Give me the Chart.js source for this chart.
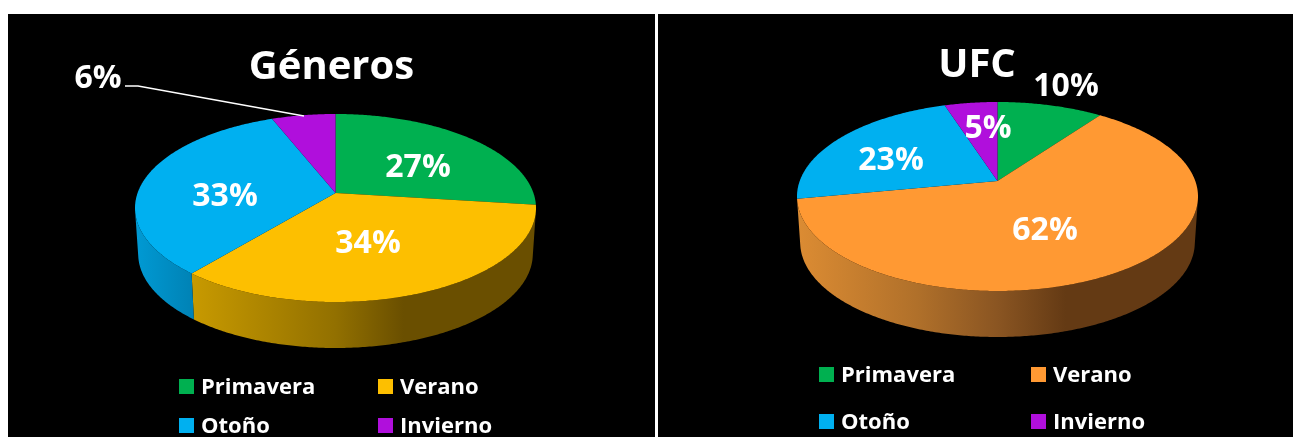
<!DOCTYPE html>
<html lang="es">
<head>
<meta charset="utf-8">
<title>Géneros y UFC por estación</title>
<script src="https://cdn.jsdelivr.net/npm/chart.js@4"></script>
<style>
  html, body { margin: 0; padding: 0; background: #fff; width: 1293px; height: 437px; overflow: hidden; }
  .panel { position: absolute; top: 14px; height: 423px; background: #000; overflow: hidden; }
  .panel canvas { display: block; }
</style>
</head>
<body>
<div class="panel" style="left:8px;width:647px"><canvas id="generos" width="647" height="423"></canvas></div>
<div class="panel" style="left:658px;width:635px"><canvas id="ufc" width="638" height="423"></canvas></div>
<script>
// Season categories and the share of each chart's total
const categories = ['Primavera', 'Verano', 'Otoño', 'Invierno'];
const generosValues = [27, 34, 33, 6];
const ufcValues = [10, 62, 23, 5];
const generosTitle = 'Géneros';
const ufcTitle = 'UFC';

const generosColours = ['#00B050', '#FDBF00', '#00B0F0', '#B00FDC'];
const ufcColours = ['#00B050', '#FF9933', '#00B0F0', '#B00FDC'];

const FONT = '"Open Sans", sans-serif';

// Horizontal shading of the pie's rim, per slice: [offset across the pie, colour]
const generosRim = [
  [[0, '#00803a'], [1, '#00803a']],
  [[0.14, '#c89a00'], [0.5, '#927000'], [0.67, '#6a4f00'], [1, '#6a4f00']],
  [[0, '#009ad4'], [0.14, '#0083b6']],
  [[0, '#7a0a99'], [1, '#7a0a99']]
];
const ufcRim = [
  [[0, '#00803a'], [1, '#00803a']],
  [[0, '#dc8c33'], [0.3, '#b0702a'], [0.5, '#8a5522'], [0.67, '#643a14'], [1, '#643a14']],
  [[0, '#009ad4'], [1, '#0083b6']],
  [[0, '#7a0a99'], [1, '#7a0a99']]
];

// Tilted-disc projection: unit circle to an ellipse, with the disc centre pushed back by k
function projector(g) {
  const s = Math.sqrt(1 - g.k * g.k);
  return angle => {
    const u = Math.cos(angle), v = Math.sin(angle), w = 1 + g.k * v;
    return { x: g.cx + g.rx * u * s / w, y: g.cy + g.ry * (v + g.k) / w };
  };
}

const pie3d = {
  id: 'pie3d',
  // Replaces the flat arc drawing; slice angles still come from the doughnut controller
  beforeDatasetsDraw(chart, args, opts) {
    const ctx = chart.ctx, g = opts.geometry, at = projector(g);
    const arcs = chart.getDatasetMeta(0).data;
    const apex = { x: g.cx, y: g.cy + g.ry * g.k };
    const samples = (a0, a1) => {
      const n = Math.max(2, Math.ceil((a1 - a0) / 0.01)), pts = [];
      for (let i = 0; i <= n; i++) pts.push(at(a0 + (a1 - a0) * i / n));
      return pts;
    };
    ctx.save();
    // Rim first: only the part of each slice facing the viewer
    arcs.forEach((arc, i) => {
      const pts = samples(arc.startAngle, arc.endAngle).filter(p => p.y >= g.cy + 3);
      if (pts.length < 2) return;
      const grad = ctx.createLinearGradient(g.cx - g.rx, 0, g.cx + g.rx, 0);
      opts.rim[i].forEach(s => grad.addColorStop(s[0], s[1]));
      ctx.beginPath();
      pts.forEach((p, j) => j ? ctx.lineTo(p.x, p.y) : ctx.moveTo(p.x, p.y));
      for (let j = pts.length - 1; j >= 0; j--) {
        ctx.lineTo(g.cx + (pts[j].x - g.cx) * g.taper, pts[j].y + g.depth);
      }
      ctx.closePath();
      ctx.fillStyle = grad;
      ctx.fill();
    });
    // Top face
    arcs.forEach((arc, i) => {
      const pts = samples(arc.startAngle, arc.endAngle);
      ctx.beginPath();
      ctx.moveTo(apex.x, apex.y);
      pts.forEach(p => ctx.lineTo(p.x, p.y));
      ctx.closePath();
      ctx.fillStyle = chart.data.datasets[0].backgroundColor[i];
      ctx.fill();
    });
    ctx.restore();
    return false;
  },
  afterDraw(chart, args, opts) {
    const ctx = chart.ctx, values = chart.data.datasets[0].data;
    ctx.save();
    // Leader line for a label set outside the pie
    if (opts.leader) {
      ctx.strokeStyle = '#fff';
      ctx.lineWidth = 1.4;
      ctx.beginPath();
      opts.leader.forEach((p, j) => j ? ctx.lineTo(p[0], p[1]) : ctx.moveTo(p[0], p[1]));
      ctx.stroke();
    }
    // Percentage labels
    ctx.fillStyle = '#fff';
    ctx.textAlign = 'center';
    ctx.textBaseline = 'middle';
    ctx.font = 'bold ' + opts.labelSize + 'px ' + FONT;
    values.forEach((v, i) => ctx.fillText(v + '%', opts.labelAt[i][0], opts.labelAt[i][1]));
    // Two-column legend
    ctx.textAlign = 'left';
    ctx.textBaseline = 'alphabetic';
    ctx.font = 'bold ' + opts.legendSize + 'px ' + FONT;
    chart.data.labels.forEach((name, i) => {
      const col = i % 2, row = i >> 1;
      const x = opts.legendX[col], y = opts.legendY[row];
      ctx.fillStyle = chart.data.datasets[0].backgroundColor[i];
      ctx.fillRect(x, y, 15, 15);
      ctx.fillStyle = '#fff';
      ctx.fillText(name, x + 22, y + 15);
    });
    ctx.restore();
  }
};

function drawPie(id, title, values, colours, pieOptions, titleTop) {
  new Chart(document.getElementById(id), {
    type: 'pie',
    data: {
      labels: categories,
      datasets: [{ data: values, backgroundColor: colours, borderWidth: 0 }]
    },
    plugins: [pie3d],
    options: {
      responsive: false,
      animation: false,
      events: [],
      plugins: {
        legend: { display: false },
        tooltip: { enabled: false },
        title: {
          display: true,
          text: title,
          color: '#fff',
          font: { family: FONT, size: 40, weight: 'bold', lineHeight: 1 },
          padding: { top: titleTop, bottom: 0 }
        },
        pie3d: pieOptions
      }
    }
  });
}

drawPie('generos', generosTitle, generosValues, generosColours, {
  geometry: { cx: 327.5, cy: 194, rx: 200.5, ry: 94, k: -0.16, depth: 46, taper: 0.984 },
  rim: generosRim,
  labelSize: 32,
  labelAt: [[410, 154], [360, 230], [217, 183], [90, 65]],
  leader: [[117, 72], [130, 72], [296, 102]],
  legendSize: 22,
  legendX: [171, 370],
  legendY: [365, 404]
}, 34);

drawPie('ufc', ufcTitle, ufcValues, ufcColours, {
  geometry: { cx: 339.5, cy: 182.5, rx: 200.5, ry: 94.5, k: -0.164, depth: 46, taper: 0.984 },
  rim: ufcRim,
  labelSize: 32,
  labelAt: [[408, 73], [387, 217], [233, 147], [330, 115]],
  legendSize: 22,
  legendX: [161, 373],
  legendY: [353, 400]
}, 32);
</script>
</body>
</html>
